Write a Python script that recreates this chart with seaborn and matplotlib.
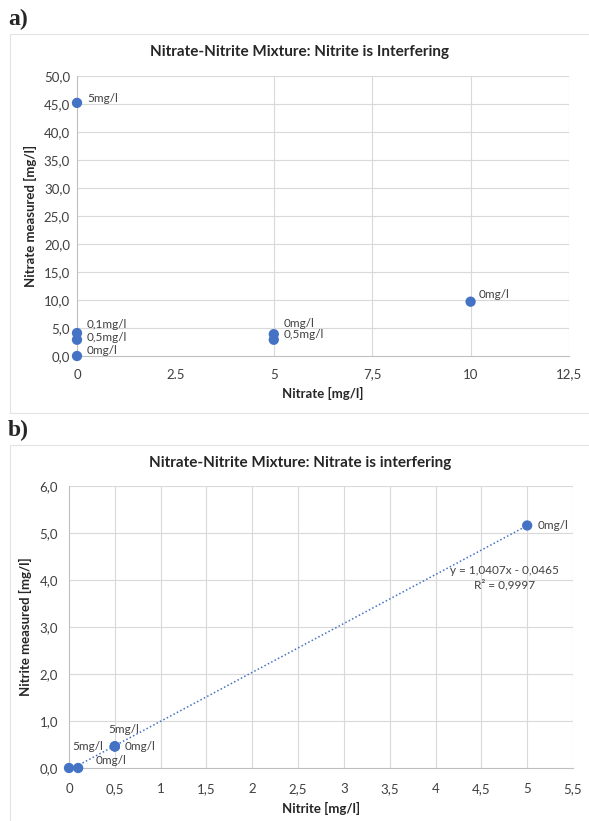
import matplotlib
matplotlib.use("Agg")
import matplotlib.pyplot as plt
import seaborn as sns
import numpy as np
import pandas as pd
from matplotlib.ticker import MultipleLocator
from matplotlib.patches import Rectangle

sns.set_theme(style="white")
plt.rcParams['font.family'] = ['Lato', 'DejaVu Sans']

# ---------------- data ----------------
# panel a
a_x = [0, 0, 0, 0, 5, 5, 10]
a_y = [45.2, 4.1, 2.9, 0.0, 3.9, 2.9, 9.7]
a_labels = ["5mg/l", "0,1mg/l", "0,5mg/l", "0mg/l", "0mg/l", "0,5mg/l", "0mg/l"]
a_xticks = [0, 2.5, 5, 7.5, 10, 12.5]
a_xticklabels = ["0", "2.5", "5", "7,5", "10", "12,5"]
a_yticks = [0, 5, 10, 15, 20, 25, 30, 35, 40, 45, 50]
a_yticklabels = ["0,0", "5,0", "10,0", "15,0", "20,0", "25,0", "30,0", "35,0", "40,0", "45,0", "50,0"]
a_title = "Nitrate-Nitrite Mixture: Nitrite is Interfering"
a_xlabel = "Nitrate [mg/l]"
a_ylabel = "Nitrate measured [mg/l]"

# panel b
b_x = [0, 0.1, 0.5, 0.5, 0.5, 5]
b_y = [0.0, 0.0, 0.46, 0.46, 0.46, 5.16]
b_labels = ["", "0mg/l", "5mg/l", "5mg/l", "0mg/l", "0mg/l"]
b_xticks = [0, 0.5, 1, 1.5, 2, 2.5, 3, 3.5, 4, 4.5, 5, 5.5]
b_xticklabels = ["0", "0,5", "1", "1,5", "2", "2,5", "3", "3,5", "4", "4,5", "5", "5,5"]
b_yticks = [0, 1, 2, 3, 4, 5, 6]
b_yticklabels = ["0,0", "1,0", "2,0", "3,0", "4,0", "5,0", "6,0"]
b_trend = [1.0407, -0.0465]   # slope, intercept
b_eq = "y = 1,0407x - 0,0465"
b_r2 = "R² = 0,9997"
b_title = "Nitrate-Nitrite Mixture: Nitrate is interfering"
b_xlabel = "Nitrite [mg/l]"
b_ylabel = "Nitrite measured [mg/l]"

# ---------------- style ----------------
BLUE = "#4472C4"
GRID = "#D9D9D9"
AXC = "#BFBFBF"
TXT = "#404040"
W, H = 589, 821
PX = 0.72  # points per pixel at 100 dpi

# label offsets (pixels: dx, dy-up, ha)
a_off = [(10, 4, "left"), (10, 9, "left"), (10, 2, "left"), (10, 6, "left"),
         (10, 11, "left"), (10, 5, "left"), (8, 7, "left")]
b_off = [(0, 0, "left"), (17, 8, "left"), (-7, 17, "left"), (-12, 0, "right"),
         (10, 0, "left"), (10, 0, "left")]

fig = plt.figure(figsize=(W / 100, H / 100), dpi=100)

# chart borders
for (y0, y1) in [(34, 413), (445, 823)]:
    fig.patches.append(Rectangle((10 / W, 1 - y1 / H), (W - 8) / W, (y1 - y0) / H,
                                 transform=fig.transFigure, fill=False,
                                 edgecolor="#E3E3E3", lw=0.8))

fig.text(8 / W, 1 - 19 / H, "a)", fontsize=17, fontweight="bold",
         family=["Liberation Serif", "DejaVu Serif"], va="center", ha="left")
fig.text(8 / W, 1 - 430 / H, "b)", fontsize=17, fontweight="bold",
         family=["Liberation Serif", "DejaVu Serif"], va="center", ha="left")

fig.text(299 / W, 1 - 52 / H, a_title, fontsize=11, fontweight="bold",
         color="#262626", ha="center", va="center")
fig.text(300 / W, 1 - 463 / H, b_title, fontsize=11, fontweight="bold",
         color="#262626", ha="center", va="center")


def setup_axes(ax):
    for s in ["top", "right"]:
        ax.spines[s].set_visible(False)
    for s in ["left", "bottom"]:
        ax.spines[s].set_color(AXC)
        ax.spines[s].set_linewidth(0.8)
    ax.tick_params(axis="both", labelsize=9.5, labelcolor=TXT, colors=AXC)


# ---------------- panel a ----------------
axa = fig.add_axes([77 / W, 1 - 356 / H, 492 / W, 280 / H])
dfa = pd.DataFrame({"x": a_x, "y": a_y, "label": a_labels})
sns.scatterplot(data=dfa, x="x", y="y", ax=axa, color=BLUE, s=55,
                edgecolor="none", zorder=3, clip_on=False)
axa.set_xlim(a_xticks[0], a_xticks[-1])
axa.set_ylim(a_yticks[0], a_yticks[-1])
axa.set_xticks(a_xticks)
axa.set_xticklabels(a_xticklabels)
axa.set_yticks(a_yticks)
axa.set_yticklabels(a_yticklabels)
axa.xaxis.set_minor_locator(MultipleLocator(1))
setup_axes(axa)
axa.tick_params(axis="x", which="major", length=0, pad=9)
axa.tick_params(axis="x", which="minor", length=3, width=0.8, color=AXC)
axa.tick_params(axis="y", length=0, pad=5)
for yv in a_yticks[1:]:
    axa.axhline(yv, color=GRID, lw=0.8, zorder=0)
for xv in a_xticks[2:]:
    axa.axvline(xv, color=GRID, lw=0.8, zorder=0)
for xv, yv, lab, (dx, dy, ha) in zip(a_x, a_y, a_labels, a_off):
    axa.annotate(lab, (xv, yv), xytext=(dx * PX, dy * PX), textcoords="offset points",
                 fontsize=8.5, color="#404040", ha=ha, va="center")
axa.set_xlabel(a_xlabel, fontsize=9.5, fontweight="bold", color="#262626", labelpad=5)
axa.set_ylabel(a_ylabel, fontsize=9.5, fontweight="bold", color="#262626", labelpad=5)

# ---------------- panel b ----------------
axb = fig.add_axes([69 / W, 1 - 768 / H, 504 / W, 282 / H])
dfb = pd.DataFrame({"x": b_x, "y": b_y, "label": b_labels})
tx = np.array([min(b_x), max(b_x)])
dft = pd.DataFrame({"x": tx, "y": b_trend[0] * tx + b_trend[1]})
sns.lineplot(data=dft, x="x", y="y", ax=axb, color=BLUE, lw=1.1,
             linestyle=(0, (1, 1.5)), zorder=2)
sns.scatterplot(data=dfb, x="x", y="y", ax=axb, color=BLUE, s=55,
                edgecolor="none", zorder=3, clip_on=False)
axb.set_xlim(b_xticks[0], b_xticks[-1])
axb.set_ylim(b_yticks[0], b_yticks[-1])
axb.set_xticks(b_xticks)
axb.set_xticklabels(b_xticklabels)
axb.set_yticks(b_yticks)
axb.set_yticklabels(b_yticklabels)
axb.xaxis.set_minor_locator(MultipleLocator(0.1))
axb.yaxis.set_minor_locator(MultipleLocator(0.2))
setup_axes(axb)
axb.tick_params(axis="x", which="major", length=4, width=0.8, color=AXC, pad=7)
axb.tick_params(axis="x", which="minor", length=3, width=0.8, color=AXC)
axb.tick_params(axis="y", which="major", length=4, width=0.8, color=AXC, pad=4)
axb.tick_params(axis="y", which="minor", length=3, width=0.8, color=AXC)
for yv in b_yticks[1:]:
    axb.axhline(yv, color=GRID, lw=0.8, zorder=0)
for xv in b_xticks[1:]:
    axb.axvline(xv, color=GRID, lw=0.8, zorder=0)
for xv, yv, lab, (dx, dy, ha) in zip(b_x, b_y, b_labels, b_off):
    if lab:
        axb.annotate(lab, (xv, yv), xytext=(dx * PX, dy * PX), textcoords="offset points",
                     fontsize=8.5, color="#404040", ha=ha, va="center")
axb.text(0.8645, 0.70, b_eq, transform=axb.transAxes, fontsize=8.5, color="#404040",
         ha="center", va="center")
axb.text(0.8645, 0.65, b_r2, transform=axb.transAxes, fontsize=8.5, color="#404040",
         ha="center", va="center")
axb.set_xlabel(b_xlabel, fontsize=9.5, fontweight="bold", color="#262626", labelpad=5)
axb.set_ylabel(b_ylabel, fontsize=9.5, fontweight="bold", color="#262626", labelpad=5)

fig.savefig("out.png", dpi=100)
